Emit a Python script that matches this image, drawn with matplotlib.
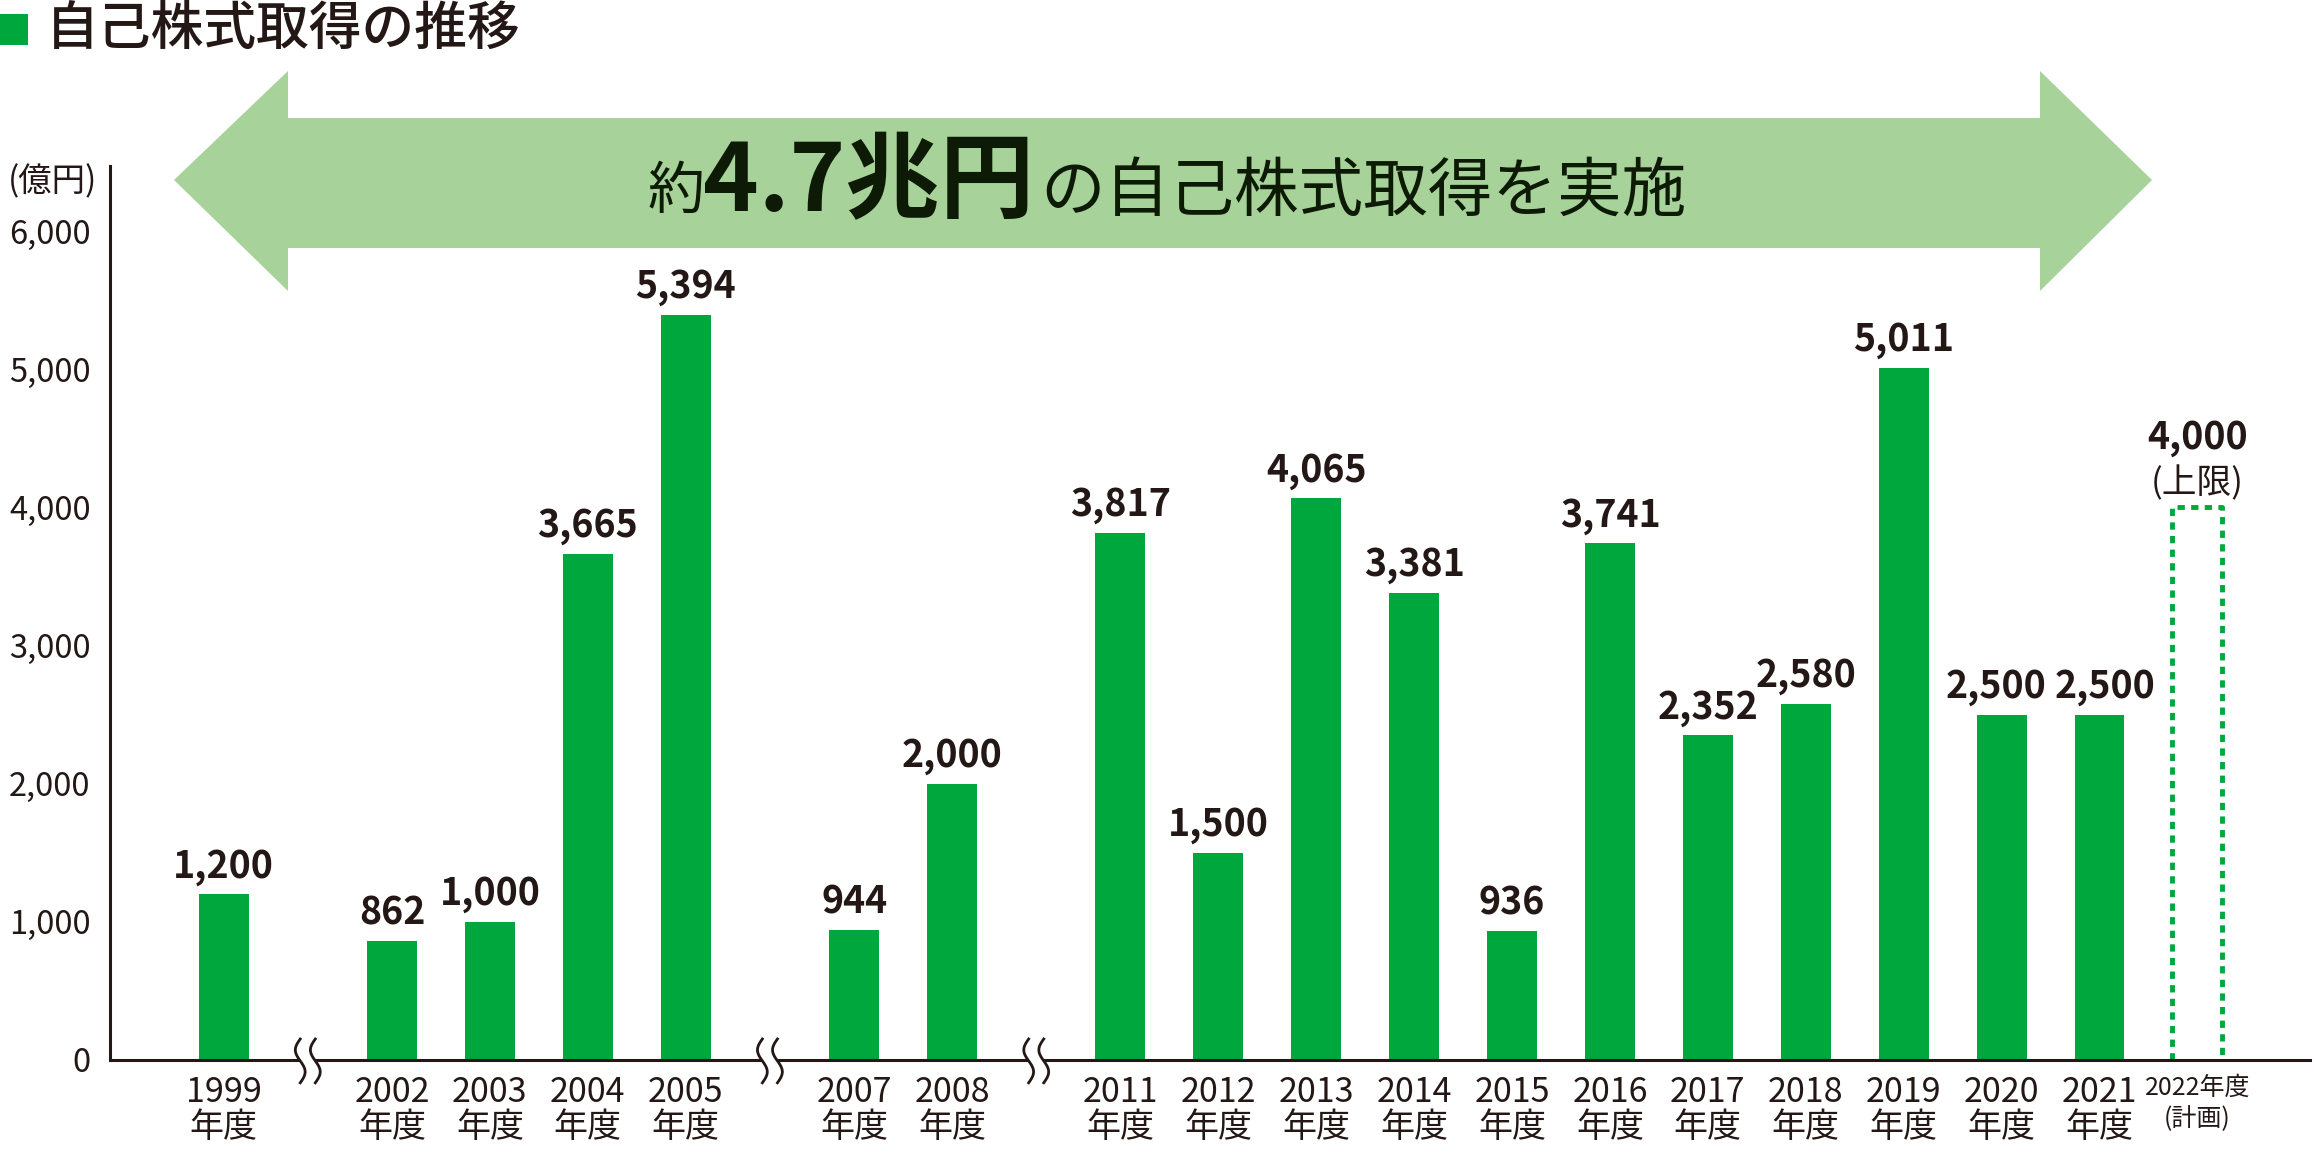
import numpy as np
import matplotlib
matplotlib.use("Agg")
import matplotlib.pyplot as plt
from matplotlib.patches import Polygon, Rectangle

plt.rcParams['font.family'] = ['Noto Sans CJK JP', 'DejaVu Sans']

# ---- data ----
segments = [
    ["1999"],
    ["2002", "2003", "2004", "2005"],
    ["2007", "2008"],
    ["2011", "2012", "2013", "2014", "2015", "2016", "2017", "2018", "2019",
     "2020", "2021", "2022"],
]
values = [1200, 862, 1000, 3665, 5394, 944, 2000, 3817, 1500, 4065, 3381,
          936, 3741, 2352, 2580, 5011, 2500, 2500, 4000]
value_labels = ["1,200", "862", "1,000", "3,665", "5,394", "944", "2,000",
                "3,817", "1,500", "4,065", "3,381", "936", "3,741", "2,352",
                "2,580", "5,011", "2,500", "2,500", "4,000"]
plan_note = "(上限)"
plan_tick = "2022年度\n(計画)"
yticks = [0, 1000, 2000, 3000, 4000, 5000, 6000]
ytick_labels = ["0", "1,000", "2,000", "3,000", "4,000", "5,000", "6,000"]
title = "自己株式取得の推移"
unit = "(億円)"

GREEN = "#00a73c"
LIGHT = "#a7d39a"
INK = "#231815"

W, H = 2314, 1162
fig = plt.figure(figsize=(W / 100, H / 100), dpi=100)

def fx(px):
    return px / W

def fy(py):
    return 1 - py / H

# axes placement
ax_left, ax_right, ax_bottom, ax_top = 110, 2310, 1060, 166
ax = fig.add_axes([fx(ax_left), fy(ax_bottom), fx(ax_right - ax_left),
                   fy(ax_top) - fy(ax_bottom)])

# x positions with breaks
gap = 1.72
xs, years, breaks = [], [], []
pos = 0.0
for si, seg in enumerate(segments):
    if si > 0:
        breaks.append(pos - 1 + gap / 2)
        pos = pos - 1 + gap
    for y in seg:
        xs.append(pos)
        years.append(y)
        pos += 1
xs = np.array(xs)

bw = 0.51
ax.bar(xs[:-1], values[:-1], width=bw, color=GREEN, zorder=2)
# planned bar (dashed outline)
xp = xs[-1]
ax.plot([xp - bw / 2, xp - bw / 2, xp + bw / 2, xp + bw / 2],
        [0, values[-1], values[-1], 0], color=GREEN, lw=3.5,
        linestyle=(0, (1.5, 1.3)), zorder=2)

# push apart labels of neighbouring bars with equal heights
n = len(values)
dxs = [0.0] * n
for i in range(n - 2):
    if values[i] == values[i + 1]:
        dxs[i] -= 4
        dxs[i + 1] += 4

for i, (x, v, lab) in enumerate(zip(xs, values, value_labels)):
    off = 36 if i == n - 1 else 6
    ax.annotate(lab, (x, v), xytext=(dxs[i], off), textcoords='offset points',
                ha='center', va='bottom', fontsize=27, fontweight='bold',
                color=INK)
ax.annotate(plan_note, (xp, values[-1]), xytext=(0, 4),
            textcoords='offset points', ha='center', va='bottom',
            fontsize=25, color=INK)

ax.set_xlim(-1.16, 21.31)
ax.set_ylim(0, 6470)
ax.set_yticks(yticks)
ax.set_yticklabels(ytick_labels, fontsize=23.5, color=INK)
ax.set_xticks(xs)
xt = [f"{y}\n年度" for y in years[:-1]] + [plan_tick]
ax.set_xticklabels(xt, fontsize=24.5, color=INK, linespacing=1.0)
ax.get_xticklabels()[-1].set_fontsize(18)
ax.get_xticklabels()[-1].set_linespacing(1.25)
ax.tick_params(axis='both', length=0)
ax.tick_params(axis='y', pad=14)
ax.tick_params(axis='x', pad=11)
for s in ['top', 'right']:
    ax.spines[s].set_visible(False)
for s in ['left', 'bottom']:
    ax.spines[s].set_linewidth(2.2)
    ax.spines[s].set_color(INK)

# break marks
tt = np.linspace(-1, 1, 80)
for b in breaks:
    ax.add_patch(Rectangle((b - 0.077, -0.01), 0.154, 0.02,
                           transform=ax.get_xaxis_transform(),
                           facecolor='white', edgecolor='none', zorder=5,
                           clip_on=False))
    for dx in (-0.077, 0.077):
        yy = -0.001 + tt * 0.0245
        xx = b + dx - 0.05 * np.sin(tt * np.pi)
        ax.plot(xx, yy, transform=ax.get_xaxis_transform(), color=INK,
                lw=2.0, zorder=6, clip_on=False)

# title
fig.patches.append(Rectangle((fx(0), fy(45)), fx(28), fy(14) - fy(45),
                             transform=fig.transFigure, facecolor=GREEN,
                             edgecolor='none'))
fig.text(fx(46), fy(31), title, fontsize=38, fontweight='medium',
         color=INK, ha='left', va='center')
fig.text(fx(97), fy(182), unit, fontsize=24, color=INK, ha='right',
         va='center')

# big arrow
pts_px = [(174, 180), (288, 71), (288, 118), (2040, 118), (2040, 71),
          (2152, 180), (2040, 291), (2040, 248), (288, 248), (288, 291)]
arrow = Polygon([(fx(a), fy(b)) for a, b in pts_px], closed=True,
                transform=fig.transFigure, facecolor=LIGHT, edgecolor='none',
                zorder=0)
fig.patches.append(arrow)

fig.text(fx(648), fy(192), "約", fontsize=41, color="#0d1a05",
         ha='left', va='center')
fig.text(fx(703), fy(183), "4.7兆円", fontsize=68, fontweight='bold',
         color="#0d1a05", ha='left', va='center')
fig.text(fx(1040), fy(192), "の自己株式取得を実施", fontsize=46.5,
         color="#0d1a05", ha='left', va='center')

fig.savefig("out.png", dpi=100)
